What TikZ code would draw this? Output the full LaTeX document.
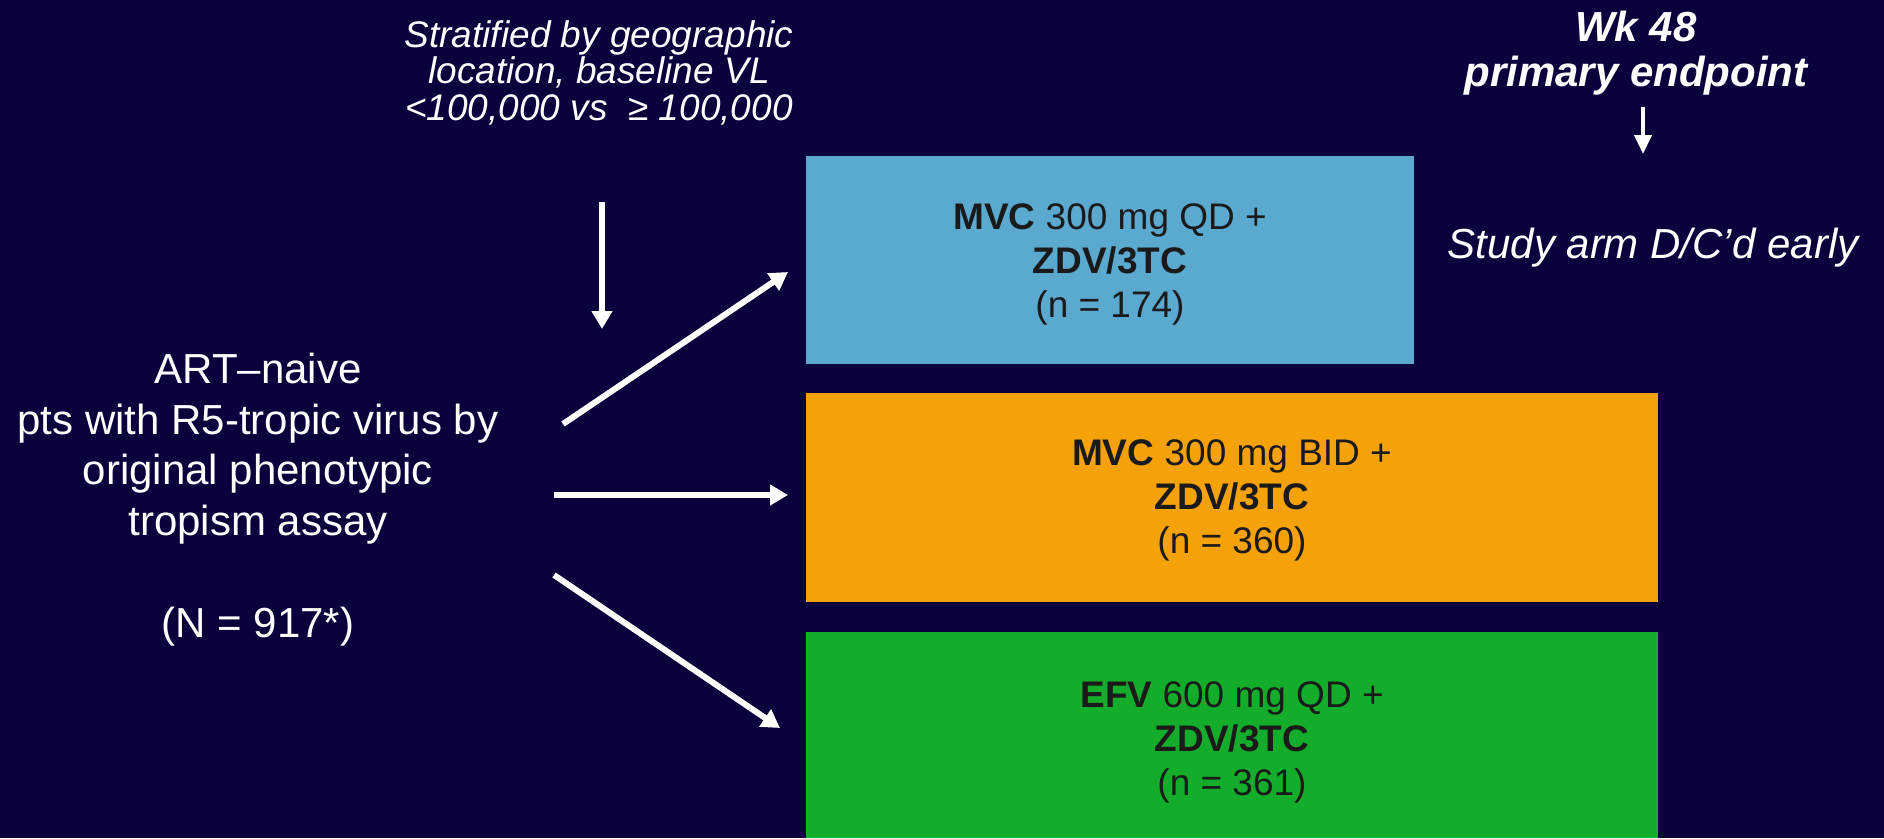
\documentclass[tikz,border=0pt]{standalone}
\usepackage{fontspec}
\setmainfont{Liberation Sans}
\usetikzlibrary{arrows.meta}
\definecolor{bg}{RGB}{10,0,60}
\definecolor{armblue}{RGB}{91,169,207}
\definecolor{armorange}{RGB}{245,161,10}
\definecolor{armgreen}{RGB}{19,173,43}
\definecolor{boxtext}{RGB}{26,26,26}
\begin{document}
\begin{tikzpicture}[x=1pt,y=-1pt,
  armbox/.style={draw=none,inner sep=0pt,anchor=north west},
  armtext/.style={text=boxtext,align=center,anchor=base,inner sep=0pt,font=\fontsize{37}{44}\selectfont},
  whitetext/.style={text=white,align=center,anchor=base,inner sep=0pt},
  flow/.style={draw=white,line width=6pt,-{Triangle[width=20pt,length=18pt]}},
  smallflow/.style={draw=white,line width=4pt,-{Triangle[width=17pt,length=19pt]}},
]
\fill[bg] (0,0) rectangle (1884,838);
\useasboundingbox (0,0) rectangle (1884,838);

% boxes
\node[armbox,fill=armblue,minimum width=608pt,minimum height=208pt] (armA) at (806,156) {};
\node[armbox,fill=armorange,minimum width=852pt,minimum height=209pt] (armB) at (806,393) {};
\node[armbox,fill=armgreen,minimum width=852pt,minimum height=206pt] (armC) at (806,632) {};

\node[armtext] (armAtxt) at (1110,317) {\textbf{MVC} 300 mg QD +\\\textbf{ZDV/3TC}\\(n = 174)};
\node[armtext] (armBtxt) at (1232,553) {\textbf{MVC} 300 mg BID +\\\textbf{ZDV/3TC}\\(n = 360)};
\node[armtext] (armCtxt) at (1232,795) {\textbf{EFV} 600 mg QD +\\\textbf{ZDV/3TC}\\(n = 361)};

% texts
\node[whitetext,font=\fontsize{42}{50.7}\selectfont] (pop) at (258,637)
  {ART–naive\\pts with R5-tropic virus by\\original phenotypic\\tropism assay\\[50.7pt](N = 917*)};
\node[whitetext,font=\itshape\fontsize{37}{36.5}\selectfont] (strat) at (599,120)
  {Stratified by geographic\\location, baseline VL\\<100,000 vs \ ≥ 100,000};
\node[whitetext,font=\bfseries\itshape\fontsize{42}{45}\selectfont] (wk) at (1636,86)
  {Wk 48\\primary endpoint};
\node[whitetext,font=\itshape\fontsize{42}{50}\selectfont] (dc) at (1653,258)
  {Study arm D/C’d early};

% arrows
\coordinate (vtop) at (602,202);
\coordinate (vtip) at (602,329);
\coordinate (u0) at (563,424);
\coordinate (u1) at (788,272);
\coordinate (h0) at (554,495);
\coordinate (h1) at (788,495);
\coordinate (d0) at (554,575);
\coordinate (d1) at (780,728);
\coordinate (e0) at (1643,107);
\coordinate (e1) at (1643,154);

\draw[flow] (vtop) -- (vtip);
\draw[flow] (u0) -- (u1);
\draw[flow] (h0) -- (h1);
\draw[flow] (d0) -- (d1);
\draw[smallflow] (e0) -- (e1);
\end{tikzpicture}
\end{document}
